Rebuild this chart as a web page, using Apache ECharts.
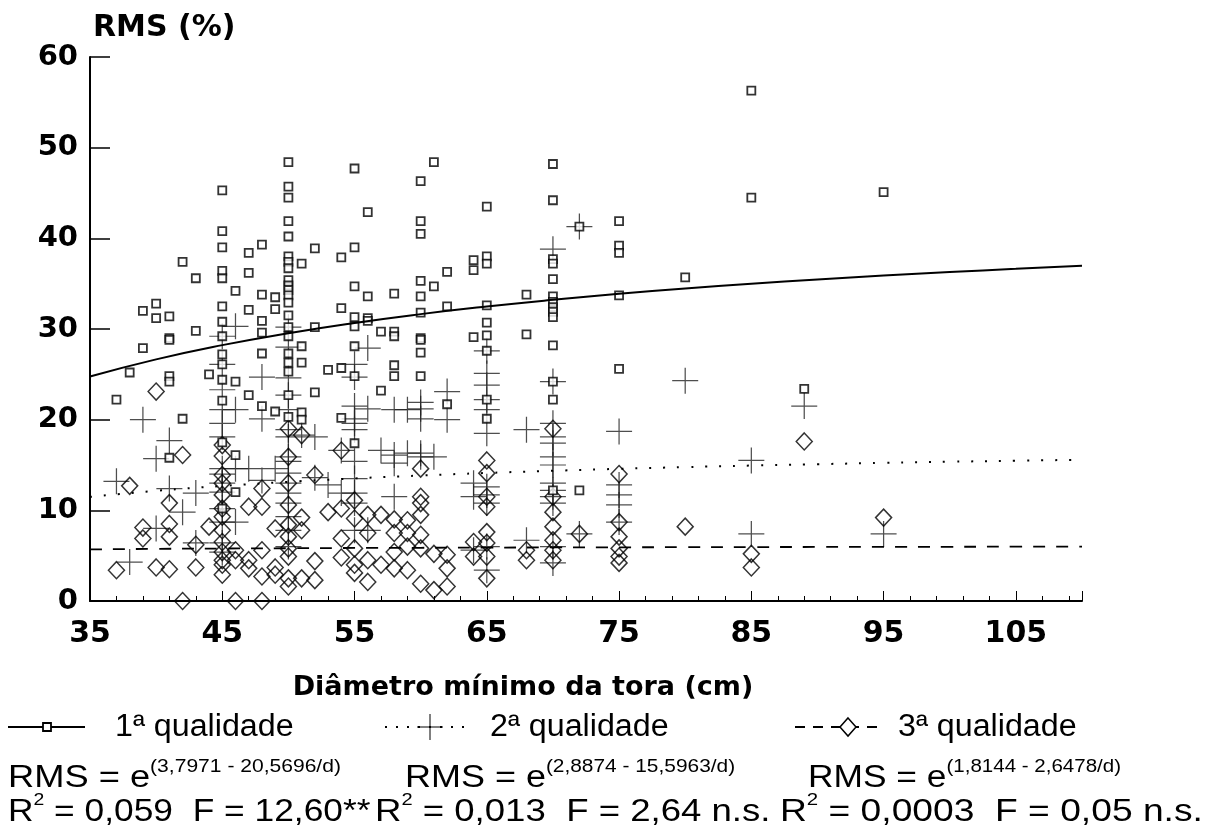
<!DOCTYPE html>
<html><head><meta charset="utf-8">
<script src="https://cdn.jsdelivr.net/npm/echarts@6/dist/echarts.min.js"></script>
<style>html,body{margin:0;padding:0;background:#fff}#c{width:1215px;height:826px}</style>
</head><body><div id="c"></div>
<script>
// tick labels
const xTicks = [35,45,55,65,75,85,95,105];
const yTicks = [0,10,20,30,40,50,60];

// 1ª qualidade  [diâmetro, RMS]
const q1 = [
[37,22.2],[38,25.2],[39,32.0],[39,27.9],[40,32.8],[40,31.2],
[41,31.4],[41,29.0],[41,28.8],[41,24.8],[41,24.2],[41,15.8],
[42,37.4],[42,20.1],[43,35.6],[43,29.8],[44,25.0],
[45,45.3],[45,40.8],[45,39.0],[45,36.4],[45,35.6],[45,32.5],[45,30.8],[45,29.2],[45,27.2],[45,26.1],[45,24.4],[45,22.1],[45,17.5],[45,10.2],
[46,34.2],[46,24.2],[46,16.1],[46,12.0],
[47,38.4],[47,36.2],[47,32.1],[47,22.7],
[48,39.3],[48,33.8],[48,30.9],[48,29.6],[48,27.3],[48,21.5],
[49,33.5],[49,32.2],[49,20.9],
[50,48.4],[50,45.7],[50,44.5],[50,41.9],[50,40.2],[50,38.0],[50,37.4],[50,36.7],[50,35.4],[50,34.8],[50,34.3],[50,33.7],[50,32.9],[50,31.5],[50,30.2],[50,29.2],[50,27.3],[50,26.3],[50,25.3],[50,22.7],[50,20.3],
[51,37.2],[51,28.1],[51,26.3],[51,20.8],[51,20.0],
[52,38.9],[52,30.2],[52,23.0],[53,25.5],
[54,37.9],[54,32.3],[54,25.7],[54,20.2],
[55,47.7],[55,39.0],[55,34.7],[55,31.3],[55,30.3],[55,28.1],[55,24.8],[55,17.4],
[56,42.9],[56,33.6],[56,31.2],[56,30.9],
[57,29.7],[57,23.2],
[58,33.9],[58,29.7],[58,29.2],[58,26.0],[58,24.8],
[60,46.3],[60,41.9],[60,40.5],[60,35.3],[60,33.6],[60,31.8],[60,29.0],[60,28.8],[60,27.4],[60,24.8],
[61,48.4],[61,34.7],[62,36.3],[62,32.5],[62,21.7],
[64,37.6],[64,36.5],[64,29.1],
[65,43.5],[65,38.0],[65,37.2],[65,32.6],[65,30.7],[65,29.3],[65,27.6],[65,22.2],[65,20.1],
[68,33.8],[68,29.4],
[70,48.2],[70,44.2],[70,37.7],[70,37.2],[70,35.5],[70,33.6],[70,33.0],[70,32.4],[70,31.9],[70,31.3],[70,28.2],[70,24.2],[70,22.2],[70,12.2],
[72,41.3],[72,12.2],
[75,41.9],[75,39.2],[75,38.4],[75,33.7],[75,25.6],
[80,35.7],[85,56.3],[85,44.5],[89,23.4],[95,45.1]
];

// 2ª qualidade
const q2 = [
[37,13.2],[38,4.3],[39,20.0],[40,15.7],[40,8.0],[41,17.7],[41,12.4],[42,9.8],[43,11.9],[43,6.4],
[45,29.2],[45,26.1],[45,23.3],[45,21.1],[45,19.6],[45,18.1],[45,14.6],[45,14.0],[45,13.0],[45,12.0],[45,10.2],[45,8.7],[45,6.4],[45,5.4],
[46,30.3],[46,21.1],[46,14.6],[46,8.7],[47,14.6],[48,24.7],[48,20.1],[48,13.3],[49,14.6],
[50,30.2],[50,28.0],[50,24.6],[50,22.7],[50,21.1],[50,18.9],[50,18.1],[50,15.9],[50,15.4],[50,14.1],[50,13.0],[50,11.9],[50,10.8],[50,9.3],[50,7.8],[50,6.0],
[51,18.3],[52,18.1],[52,13.6],[53,12.8],[54,11.9],[54,16.6],
[55,26.1],[55,24.7],[55,21.5],[55,20.1],[55,19.6],[55,18.9],[55,15.4],[55,13.5],[55,11.9],[55,10.8],[55,7.8],
[56,27.9],[56,21.2],[56,7.8],[57,16.6],[58,21.1],[58,16.1],[58,15.2],[58,11.5],[59,21.1],[59,16.3],
[60,21.9],[60,21.2],[60,20.1],[60,16.3],[60,15.9],[61,15.9],[62,23.1],[62,20.0],
[64,13.0],[64,11.5],[64,5.6],
[65,27.6],[65,25.1],[65,23.8],[65,22.2],[65,21.1],[65,18.5],[65,12.6],[65,11.7],[65,10.8],[65,6.0],[65,3.4],
[68,18.9],[68,6.7],
[70,38.8],[70,24.2],[70,19.6],[70,18.1],[70,17.4],[70,15.9],[70,15.0],[70,13.0],[70,12.2],[70,11.5],[70,10.8],[70,6.0],[70,4.2],
[72,41.3],[72,7.4],[75,18.7],[75,12.8],[75,11.7],[75,10.6],[75,8.7],
[80,24.3],[85,15.5],[85,7.4],[89,21.5],[95,7.4]
];

// 3ª qualidade
const q3 = [
[37,3.4],[38,12.7],[39,8.1],[39,6.9],[40,23.1],[40,3.7],[41,10.8],[41,8.5],[41,7.1],[41,3.5],
[42,16.1],[42,0.0],[43,6.2],[43,3.7],[44,8.2],
[45,17.2],[45,16.0],[45,13.9],[45,13.0],[45,11.7],[45,10.2],[45,9.3],[45,7.8],[45,6.5],[45,5.4],[45,4.5],[45,4.0],[45,2.9],
[46,5.6],[46,4.5],[46,0.0],[47,10.4],[47,4.5],[47,3.6],
[48,12.4],[48,10.4],[48,5.6],[48,2.7],[48,0.0],[49,8.0],[49,3.7],[49,2.9],
[50,19.0],[50,15.9],[50,13.0],[50,10.6],[50,8.4],[50,7.1],[50,5.8],[50,4.9],[50,2.5],[50,1.6],
[51,18.3],[51,9.2],[51,7.8],[51,2.5],[52,13.9],[52,4.4],[52,2.3],[53,9.8],
[54,16.6],[54,10.2],[54,6.9],[54,4.8],[55,11.1],[55,9.1],[55,5.8],[55,4.0],[55,3.1],
[56,9.5],[56,7.5],[56,4.5],[56,2.1],[57,9.5],[57,4.0],[58,9.0],[58,7.5],[58,5.4],[58,3.6],
[59,8.9],[59,7.5],[59,6.0],[59,3.4],
[60,14.6],[60,11.5],[60,10.8],[60,9.5],[60,7.3],[60,5.8],[60,1.9],
[61,5.2],[61,1.2],[62,5.1],[62,3.6],[62,1.6],[64,6.5],[64,4.9],
[65,15.5],[65,14.1],[65,11.5],[65,10.4],[65,7.6],[65,6.4],[65,4.9],[65,2.5],
[68,5.6],[68,4.5],
[70,19.0],[70,11.5],[70,9.8],[70,8.2],[70,6.7],[70,5.6],[70,4.5],
[72,7.4],[75,14.0],[75,8.7],[75,7.1],[75,5.8],[75,4.9],[75,4.2],
[80,8.2],[85,5.2],[85,3.7],[89,17.6],[95,9.2]
];

// fitted curves
const fitX = [35,40,45,50,55,60,65,70,75,80,85,90,95,100,105,110];
const fit1 = [24.76,26.65,28.22,29.54,30.67,31.64,32.48,33.22,33.88,34.47,34.99,35.47,35.89,36.28,36.64,36.97];
const fit2 = [11.49,12.15,12.69,13.14,13.52,13.84,14.12,14.36,14.58,14.77,14.94,15.09,15.23,15.36,15.47,15.58];
const fit3 = [5.69,5.75,5.79,5.82,5.85,5.87,5.89,5.91,5.92,5.94,5.95,5.96,5.97,5.98,5.99,5.99];

const pair = arr => fitX.map((x,i)=>[x,arr[i]]);
const crossPath = 'path://M10,0L11,0L11,21L10,21Z M0,10L21,10L21,11L0,11Z';
const LF = "'Liberation Sans', Arial, sans-serif";
const AF = "'DejaVu Sans', sans-serif";
const richEq = {m:{fontFamily:LF,fontSize:31,lineHeight:36,verticalAlign:'bottom'},s:{fontFamily:LF,fontSize:18,lineHeight:16,verticalAlign:'top'}};
const richR = {m:{fontFamily:LF,fontSize:31,lineHeight:36,verticalAlign:'bottom'},s:{fontFamily:LF,fontSize:17,lineHeight:16,verticalAlign:'top'}};

const chart = echarts.init(document.getElementById('c'), null, {renderer:'canvas'});
chart.setOption({
  animation:false,
  backgroundColor:'#fff',
  grid:{left:90,right:133,top:57,bottom:225,containLabel:false},
  xAxis:{
    type:'value',min:35,max:110,interval:10,
    axisLine:{show:true,lineStyle:{color:'#000',width:2}},
    axisTick:{show:true,inside:true,length:10,lineStyle:{color:'#000',width:1}},
    minorTick:{show:true,splitNumber:5,length:5,lineStyle:{color:'#000',width:1}},
    splitLine:{show:false},
    axisLabel:{formatter:v=>xTicks.includes(v)?String(v):'',color:'#000',fontFamily:AF,fontWeight:'bold',fontSize:30,margin:18},
    name:'Diâmetro mínimo da tora (cm)',nameLocation:'middle',nameGap:73,
    nameTextStyle:{color:'#000',fontFamily:AF,fontWeight:'bold',fontSize:27,padding:[0,126,0,0]}
  },
  yAxis:{
    type:'value',min:0,max:60,interval:10,
    axisLine:{show:true,lineStyle:{color:'#000',width:2}},
    axisTick:{show:true,inside:true,length:20,lineStyle:{color:'#000',width:1.5}},
    splitLine:{show:false},
    axisLabel:{formatter:v=>yTicks.includes(v)?String(v):'',color:'#000',fontFamily:AF,fontWeight:'bold',fontSize:29,margin:12},
    name:'RMS (%)',nameLocation:'end',nameGap:14,
    nameTextStyle:{color:'#000',fontFamily:AF,fontWeight:'bold',fontSize:30,align:'left',padding:[0,0,0,3]}
  },
  series:[
    {name:'2ª qualidade',type:'scatter',data:q2,symbol:crossPath,symbolSize:26,
     itemStyle:{color:'#222'},z:2},
    {name:'3ª qualidade',type:'scatter',data:q3,symbol:'diamond',symbolSize:[16,17],
     itemStyle:{color:'rgba(0,0,0,0)',borderColor:'#000',borderWidth:1.5},z:3},
    {name:'1ª qualidade',type:'scatter',data:q1,symbol:'rect',symbolSize:8,
     itemStyle:{color:'#fff',borderColor:'#000',borderWidth:1.8},z:4},
    {name:'ajuste 1',type:'line',data:pair(fit1),smooth:true,showSymbol:false,
     lineStyle:{color:'#000',width:2,type:'solid'},z:5},
    {name:'ajuste 2',type:'line',data:pair(fit2),smooth:true,showSymbol:false,
     lineStyle:{color:'#000',width:2,type:[2,12]},z:5},
    {name:'ajuste 3',type:'line',data:pair(fit3),smooth:true,showSymbol:false,
     lineStyle:{color:'#000',width:1.8,type:[12,11]},z:5}
  ],
  graphic:[
    {type:'line',shape:{x1:8,y1:727,x2:85,y2:727},style:{stroke:'#000',lineWidth:2}},
    {type:'rect',shape:{x:43,y:723,width:8,height:8},style:{fill:'#fff',stroke:'#000',lineWidth:1.8}},
    {type:'text',x:115,y:727,scaleX:1.04,style:{text:'1ª qualidade',font:"31px "+LF,fill:'#000',verticalAlign:'middle'}},
    {type:'line',shape:{x1:385,y1:727,x2:472,y2:727},style:{stroke:'#000',lineWidth:2,lineDash:[2,9]}},
    {type:'line',shape:{x1:430,y1:714,x2:430,y2:740},style:{stroke:'#000',lineWidth:1}},
    {type:'line',shape:{x1:417,y1:727,x2:443,y2:727},style:{stroke:'#000',lineWidth:1}},
    {type:'text',x:490,y:727,scaleX:1.04,style:{text:'2ª qualidade',font:"31px "+LF,fill:'#000',verticalAlign:'middle'}},
    {type:'line',shape:{x1:795,y1:727,x2:882,y2:727},style:{stroke:'#000',lineWidth:1.8,lineDash:[10,8]}},
    {type:'polygon',shape:{points:[[848,718],[856,727],[848,736],[840,727]]},style:{fill:'#fff',stroke:'#000',lineWidth:1.5}},
    {type:'text',x:898,y:727,scaleX:1.04,style:{text:'3ª qualidade',font:"31px "+LF,fill:'#000',verticalAlign:'middle'}},
    {type:'text',x:8,y:776,scaleX:1.17,style:{text:'{m|RMS = e}{s|(3,7971 - 20,5696/d)}',verticalAlign:'middle',fill:'#000',rich:richEq}},
    {type:'text',x:405,y:776,scaleX:1.16,style:{text:'{m|RMS = e}{s|(2,8874 - 15,5963/d)}',verticalAlign:'middle',fill:'#000',rich:richEq}},
    {type:'text',x:808,y:776,scaleX:1.14,style:{text:'{m|RMS = e}{s|(1,8144 - 2,6478/d)}',verticalAlign:'middle',fill:'#000',rich:richEq}},
    {type:'text',x:8,y:810,scaleX:1.14,style:{text:'{m|R}{s|2}{m| = 0,059  F = 12,60**}',verticalAlign:'middle',fill:'#000',rich:richR}},
    {type:'text',x:375,y:810,scaleX:1.18,style:{text:'{m|R}{s|2}{m| = 0,013  F = 2,64 n.s.}',verticalAlign:'middle',fill:'#000',rich:richR}},
    {type:'text',x:780,y:810,scaleX:1.2,style:{text:'{m|R}{s|2}{m| = 0,0003  F = 0,05 n.s.}',verticalAlign:'middle',fill:'#000',rich:richR}}
  ]
});
</script>
</body></html>
